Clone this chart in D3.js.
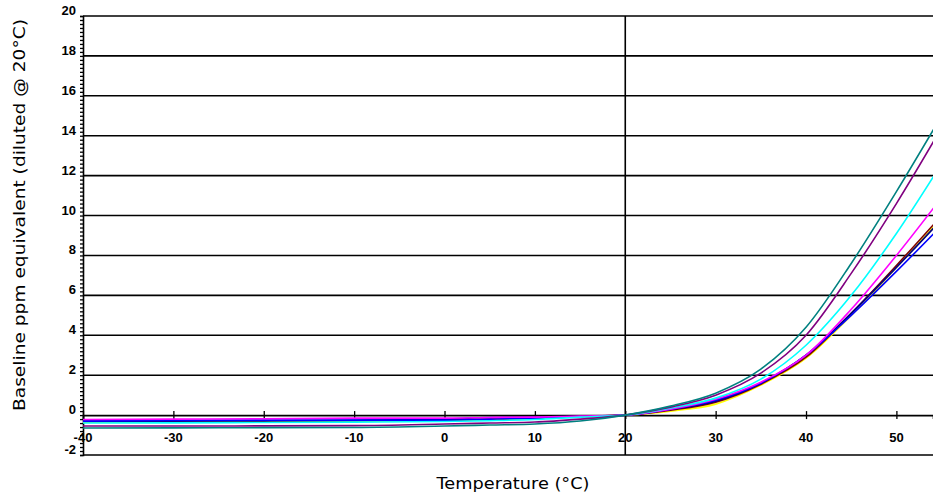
<!DOCTYPE html>
<html>
<head>
<meta charset="utf-8">
<script src="https://cdn.jsdelivr.net/npm/d3@7"></script>
<style>
  body { margin: 0; background: #fff; }
  text { font-family: "Liberation Sans", Arial, sans-serif; }
</style>
</head>
<body>
<div id="chart"></div>
<script>
// Temperature points (°C)
var temps = [-40, -30, -20, -10, 0, 5, 10, 15, 20, 25, 30, 35, 40, 45, 50, 55];

// Series values (ppm equivalent)
var yellowVals  = [-0.35, -0.34, -0.33, -0.3, -0.27, -0.22, -0.16, -0.08, 0, 0.2, 0.55, 1.5, 2.85, 5.0, 7.4, 9.9];
var darkredVals = [-0.32, -0.31, -0.3, -0.28, -0.25, -0.2, -0.15, -0.07, 0, 0.25, 0.65, 1.55, 2.9, 5.1, 7.5, 10.0];
var navyVals    = [-0.3, -0.29, -0.28, -0.26, -0.2, -0.12, -0.1, -0.06, 0, 0.28, 0.7, 1.6, 3.0, 5.1, 7.4, 9.8];
var blueVals    = [-0.3, -0.27, -0.25, -0.25, -0.25, -0.2, -0.15, -0.08, 0, 0.3, 0.75, 1.6, 3.0, 5.0, 7.2, 9.5];
var magentaVals = [-0.22, -0.2, -0.18, -0.15, -0.15, -0.12, -0.1, -0.05, 0, 0.3, 0.8, 1.65, 3.0, 5.3, 8.0, 10.9];
var cyanVals    = [-0.4, -0.39, -0.37, -0.35, -0.32, -0.28, -0.22, -0.1, 0, 0.35, 0.85, 1.8, 3.5, 6.0, 9.1, 12.6];
var purpleVals  = [-0.55, -0.55, -0.54, -0.53, -0.45, -0.4, -0.35, -0.2, 0, 0.4, 1.0, 2.1, 4.0, 7.1, 10.6, 14.4];
var tealVals    = [-0.65, -0.64, -0.63, -0.62, -0.55, -0.5, -0.45, -0.3, 0, 0.45, 1.1, 2.3, 4.4, 7.6, 11.2, 15.0];

var seriesList = [
  { color: "#FFFF00", values: yellowVals },
  { color: "#800000", values: darkredVals },
  { color: "#000080", values: navyVals },
  { color: "#0000FF", values: blueVals },
  { color: "#FF00FF", values: magentaVals },
  { color: "#00FFFF", values: cyanVals },
  { color: "#800080", values: purpleVals },
  { color: "#008080", values: tealVals }
];

// Tick labels
var xTicks = [-40, -30, -20, -10, 0, 10, 20, 30, 40, 50];
var yTicks = [-2, 0, 2, 4, 6, 8, 10, 12, 14, 16, 18, 20];

var w = 933;
var h = 499;

var xScale = d3.scaleLinear().domain([-40, 54.05]).range([83, 933]);
var yScale = d3.scaleLinear().domain([-2, 20]).range([455, 16]);

var svg = d3.select("#chart")
  .append("svg")
  .attr("width", w)
  .attr("height", h);

svg.append("defs").append("clipPath")
  .attr("id", "plotclip")
  .append("rect")
  .attr("x", 83)
  .attr("y", 10)
  .attr("width", 850)
  .attr("height", 450);

// horizontal gridlines
svg.selectAll(".grid")
  .data(yTicks.filter(function(d) { return d > 0; }))
  .enter()
  .append("line")
  .attr("x1", 83)
  .attr("x2", w)
  .attr("y1", function(d) { return yScale(d); })
  .attr("y2", function(d) { return yScale(d); })
  .attr("stroke", "#000")
  .attr("stroke-width", 1.6);

// bottom border at -2
svg.append("line")
  .attr("x1", 83).attr("x2", w)
  .attr("y1", yScale(-2)).attr("y2", yScale(-2))
  .attr("stroke", "#000").attr("stroke-width", 1.6);

// vertical line at 20 °C
svg.append("line")
  .attr("x1", xScale(20)).attr("x2", xScale(20))
  .attr("y1", yScale(20)).attr("y2", yScale(-2))
  .attr("stroke", "#000").attr("stroke-width", 1.6);

// y axis with minor ticks
var yAxis = svg.append("g")
  .attr("transform", "translate(83,0)")
  .call(d3.axisLeft(yScale).tickValues(d3.range(-2, 20.01, 0.2)).tickSize(3).tickFormat(""));
yAxis.select(".domain").attr("stroke-width", 1.6);
yAxis.selectAll(".tick line").attr("stroke-width", 1.3);

svg.selectAll(".ylab")
  .data(yTicks)
  .enter()
  .append("text")
  .attr("class", "ylab")
  .attr("x", 76)
  .attr("y", function(d) { return yScale(d) - 1; })
  .attr("text-anchor", "end")
  .attr("font-size", "13px")
  .attr("font-weight", "bold")
  .attr("fill", "#000")
  .text(function(d) { return d; });

// x axis crossing at 0
var xAxis = svg.append("g")
  .attr("transform", "translate(0," + yScale(0) + ")")
  .call(d3.axisBottom(xScale).tickValues(xTicks).tickSize(4).tickFormat(""));
xAxis.select(".domain").attr("stroke-width", 1.6);
xAxis.selectAll(".tick line").attr("y1", -4).attr("stroke-width", 1.3);

svg.selectAll(".xlab")
  .data(xTicks)
  .enter()
  .append("text")
  .attr("class", "xlab")
  .attr("x", function(d) { return xScale(d); })
  .attr("y", 442)
  .attr("text-anchor", "middle")
  .attr("font-size", "13px")
  .attr("font-weight", "bold")
  .attr("fill", "#000")
  .text(function(d) { return d; });

// series lines
var line = d3.line()
  .x(function(d, i) { return xScale(temps[i]); })
  .y(function(d) { return yScale(d); })
  .curve(d3.curveMonotoneX);

svg.append("g")
  .attr("clip-path", "url(#plotclip)")
  .selectAll("path")
  .data(seriesList)
  .enter()
  .append("path")
  .attr("d", function(d) { return line(d.values); })
  .attr("fill", "none")
  .attr("stroke", function(d) { return d.color; })
  .attr("stroke-width", 1.6);

// axis titles
svg.append("text")
  .attr("transform", "rotate(-90)")
  .attr("x", -215)
  .attr("y", 25)
  .attr("text-anchor", "middle")
  .style("font-family", "'DejaVu Sans', sans-serif")
  .attr("font-size", "15px")
  .attr("textLength", 392)
  .attr("lengthAdjust", "spacingAndGlyphs")
  .attr("fill", "#000")
  .text("Baseline ppm equivalent (diluted @ 20°C)");

svg.append("text")
  .attr("x", 513)
  .attr("y", 489)
  .attr("text-anchor", "middle")
  .style("font-family", "'DejaVu Sans', sans-serif")
  .attr("font-size", "15px")
  .attr("textLength", 153)
  .attr("lengthAdjust", "spacingAndGlyphs")
  .attr("fill", "#000")
  .text("Temperature (°C)");
</script>
</body>
</html>
